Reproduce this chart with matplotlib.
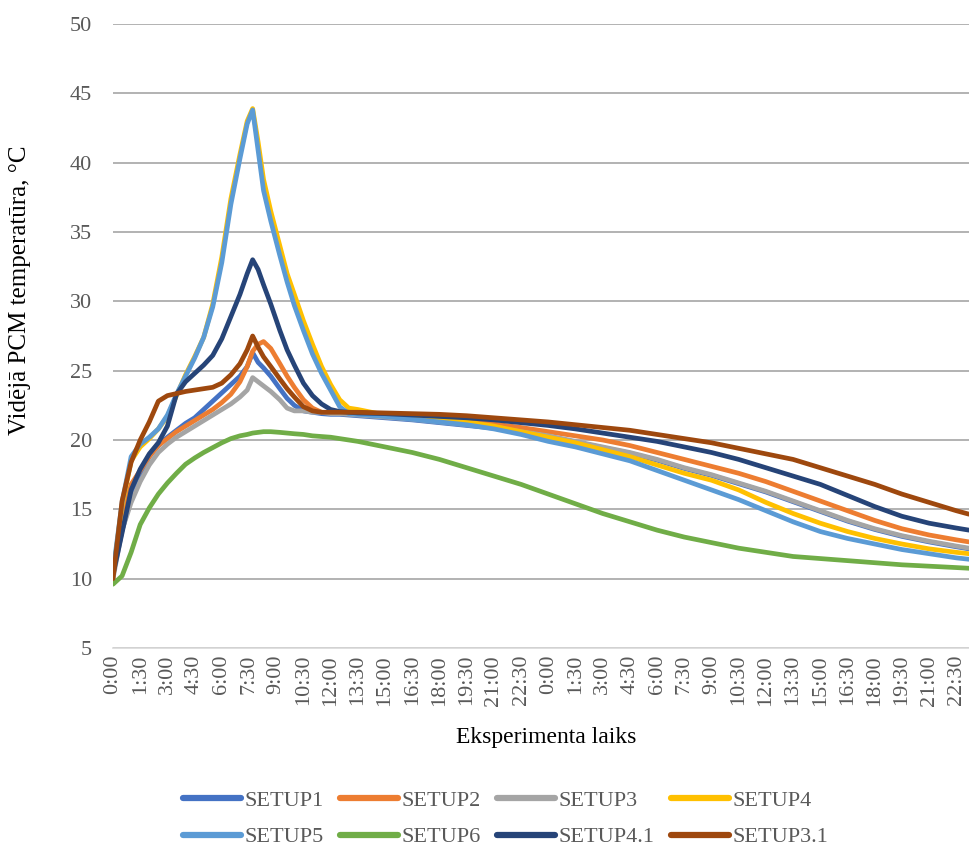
import matplotlib
matplotlib.use("Agg")
import matplotlib.pyplot as plt

# laiks stundās no eksperimenta sākuma
hours = [0, 0.5, 1, 1.5, 2, 2.5, 3, 3.5, 4, 4.5, 5, 5.5, 6, 6.5, 7,
         7.4, 7.7, 8.0, 8.3, 8.7, 9.2, 9.6, 10.0, 10.5, 11.0, 11.5, 12.0, 12.5, 13.0, 13.5,
         15, 16.5, 18, 19.5, 21, 22.5, 24, 25.5, 27, 28.5, 30, 31.5, 33, 34.5,
         36, 37.5, 39, 40.5, 42, 43.5, 45, 46.5, 47.2]

setup1 = [10.4, 13.5, 15.8, 17.5, 18.8, 19.6, 20.2, 20.7, 21.2, 21.6, 22.2, 22.8, 23.4, 24.0, 24.6,
          25.3, 26.3, 25.6, 25.2, 24.6, 23.7, 23.0, 22.5, 22.1, 22.0, 21.9, 21.85, 21.85, 21.8, 21.75,
          21.6, 21.45, 21.25, 21.05, 20.85, 20.55, 20.25, 19.85, 19.45, 19.05, 18.55, 17.95, 17.45, 16.85,
          16.25, 15.55, 14.85, 14.15, 13.55, 13.05, 12.65, 12.3, 12.15]
setup2 = [10.1, 14.5, 16.8, 17.8, 18.8, 19.6, 20.1, 20.6, 21.0, 21.4, 21.8, 22.2, 22.7, 23.3, 24.2,
          25.3, 26.4, 26.9, 27.1, 26.6, 25.5, 24.6, 23.8, 22.9, 22.3, 22.0, 21.95, 21.9, 21.9, 21.9,
          21.8, 21.65, 21.5, 21.35, 21.15, 20.9, 20.6, 20.3, 20.0, 19.6, 19.1, 18.6, 18.1, 17.6,
          17.0, 16.3, 15.6, 14.9, 14.2, 13.6, 13.15, 12.8, 12.65]
setup3 = [10.0, 13.5, 15.5, 17.0, 18.2, 19.1, 19.7, 20.2, 20.6, 21.0, 21.4, 21.8, 22.2, 22.6, 23.1,
          23.6, 24.5, 24.2, 23.9, 23.5, 22.9, 22.3, 22.1, 22.1, 22.0, 22.0, 21.9, 21.9, 21.85, 21.8,
          21.65, 21.5, 21.3, 21.1, 20.9, 20.6, 20.3, 19.9, 19.5, 19.1, 18.6, 18.0, 17.5, 16.9,
          16.3, 15.6, 14.9, 14.2, 13.6, 13.1, 12.7, 12.35, 12.2]
setup4 = [10.3, 15.3, 18.5, 19.5, 20.1, 20.8, 21.7, 23.2, 24.7, 26.0, 27.4, 29.8, 33.2, 37.4, 40.6,
          43.0, 43.9, 41.5, 38.8, 36.5, 34.0, 32.0, 30.5, 28.6, 26.9, 25.3, 24.0, 22.9, 22.3, 22.2,
          21.8, 21.6, 21.4, 21.3, 21.0, 20.6, 20.2, 19.8, 19.3, 18.8, 18.2, 17.6, 17.1, 16.4,
          15.5, 14.7, 14.0, 13.4, 12.9, 12.5, 12.15, 11.9, 11.8]
setup5 = [10.5, 15.5, 18.8, 19.7, 20.2, 20.8, 21.8, 23.3, 24.6, 25.9, 27.4, 29.6, 32.8, 37.0, 40.3,
          42.8, 43.8, 40.9, 38.0, 35.8, 33.3, 31.4, 29.7, 27.9, 26.2, 24.8, 23.6, 22.4, 21.9, 21.85,
          21.7, 21.5, 21.3, 21.1, 20.8, 20.4, 19.9, 19.5, 19.0, 18.5, 17.8, 17.1, 16.4, 15.7,
          14.9, 14.1, 13.4, 12.9, 12.5, 12.1, 11.8, 11.5, 11.4]
setup6 = [9.6, 10.2, 11.9, 13.9, 15.1, 16.1, 16.9, 17.6, 18.25, 18.7, 19.1, 19.45, 19.8, 20.1, 20.3,
          20.4, 20.5, 20.55, 20.6, 20.6, 20.55, 20.5, 20.45, 20.4, 20.3, 20.25, 20.2, 20.1, 20.0, 19.9,
          19.5, 19.1, 18.6, 18.0, 17.4, 16.8, 16.1, 15.4, 14.7, 14.1, 13.5, 13.0, 12.6, 12.2,
          11.9, 11.6, 11.45, 11.3, 11.15, 11.0, 10.9, 10.8, 10.75]
setup4_1 = [10.3, 13.3, 16.4, 17.9, 19.0, 19.8, 21.0, 23.3, 24.2, 24.8, 25.4, 26.1, 27.3, 28.9, 30.5,
            32.0, 33.0, 32.3, 31.2, 29.8, 27.9, 26.5, 25.4, 24.1, 23.2, 22.6, 22.2, 22.05, 22.0, 21.95,
            21.9, 21.8, 21.7, 21.6, 21.45, 21.25, 21.05, 20.8, 20.5, 20.2, 19.9, 19.5, 19.1, 18.6,
            18.0, 17.4, 16.8, 16.0, 15.2, 14.5, 14.0, 13.65, 13.5]
setup3_1 = [10.0, 15.6, 18.4, 20.0, 21.3, 22.8, 23.2, 23.35, 23.5, 23.6, 23.7, 23.8, 24.1, 24.7, 25.5,
            26.5, 27.5, 26.7, 26.0, 25.3, 24.4, 23.7, 23.1, 22.4, 22.1, 22.0, 22.0, 22.0, 22.0, 22.0,
            21.95, 21.9, 21.85, 21.75, 21.6, 21.45, 21.3, 21.1, 20.9, 20.7, 20.4, 20.1, 19.8, 19.4,
            19.0, 18.6, 18.0, 17.4, 16.8, 16.1, 15.5, 14.9, 14.65]

series = [("SETUP1", setup1, "#4472C4"),
          ("SETUP2", setup2, "#ED7D31"),
          ("SETUP3", setup3, "#A5A5A5"),
          ("SETUP4", setup4, "#FFC000"),
          ("SETUP5", setup5, "#5B9BD5"),
          ("SETUP6", setup6, "#70AD47"),
          ("SETUP4.1", setup4_1, "#264478"),
          ("SETUP3.1", setup3_1, "#9E480E")]

tick_hours = [i * 1.5 for i in range(32)]
tick_labels = ["%d:%02d" % (int(h) % 24, int(round((h % 1) * 60))) for h in tick_hours]

plt.rcParams['font.family'] = ['Liberation Serif', 'DejaVu Serif']

fig = plt.figure(figsize=(9.69, 8.51), dpi=100)
ax = fig.add_axes([113 / 969, 1 - 648 / 851, 1 - 113 / 969, (648 - 24) / 851])

lines = {}
for name, vals, col in series:
    ln, = ax.plot(hours, vals, color=col, lw=3.4, solid_capstyle='round',
                  solid_joinstyle='round', label=name)
    lines[name] = ln

ax.set_xlim(0, 47.2)
ax.set_ylim(5, 50)
ax.set_yticks(range(5, 51, 5))
ax.set_xticks(tick_hours)
ax.set_xticklabels(tick_labels, rotation=90)
ax.tick_params(axis='both', length=0, labelsize=16, labelcolor='#595959')
ax.tick_params(axis='y', pad=15)
ax.tick_params(axis='x', pad=5)

ax.yaxis.grid(True, color='#A6A6A6', lw=1.2)
ax.set_axisbelow(True)
for s in ['top', 'right', 'left']:
    ax.spines[s].set_visible(False)
ax.spines['bottom'].set_color('#D9D9D9')
ax.spines['bottom'].set_linewidth(1.2)

fig.text(546 / 969, 1 - 738 / 851, "Eksperimenta laiks", ha='center', va='center',
         fontsize=17, color='black')
fig.text(20 / 969, 1 - 290 / 851, "Vidējā PCM temperatūra, °C", ha='center', va='center',
         rotation=90, fontsize=18, color='black')

order = ["SETUP1", "SETUP5", "SETUP2", "SETUP6", "SETUP3", "SETUP4.1", "SETUP4", "SETUP3.1"]
leg = fig.legend([lines[n] for n in order], order, ncol=4, loc='center',
                 bbox_to_anchor=(0.522, 1 - 819 / 851), frameon=False, fontsize=16,
                 handlelength=2.6, handletextpad=0.15, columnspacing=0.75, labelspacing=0.7,
                 borderpad=0.2)
for t in leg.get_texts():
    t.set_color('#595959')
for h in leg.legend_handles:
    h.set_linewidth(4.5)

fig.savefig("out.png", dpi=100)
